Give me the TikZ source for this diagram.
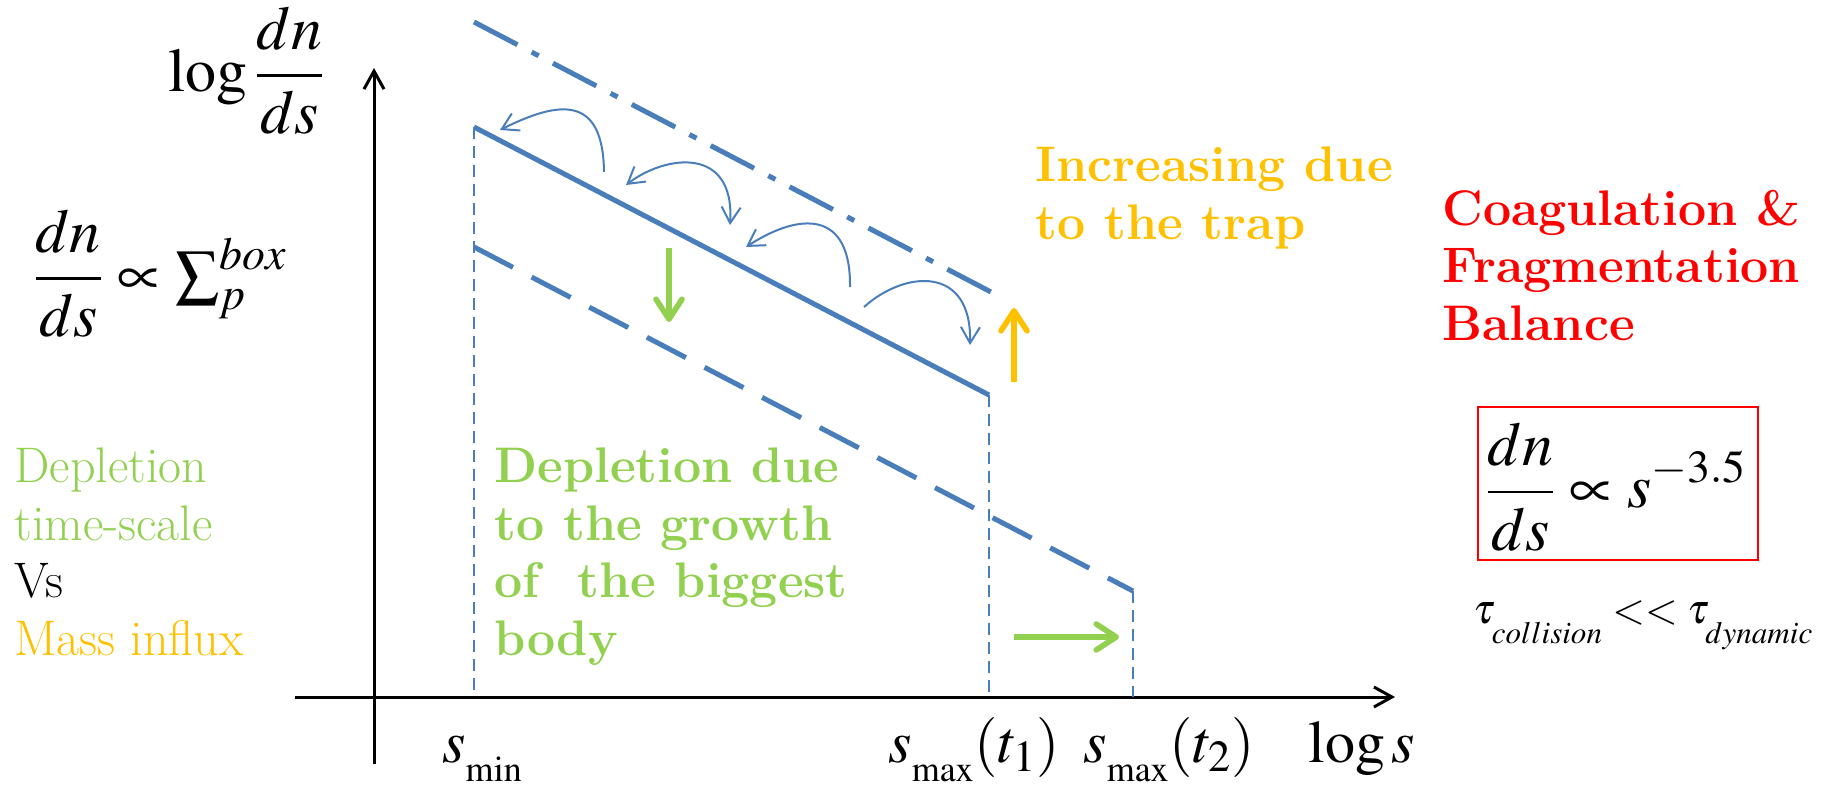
\documentclass[tikz,border=0pt]{standalone}
\usepackage{mathptmx}
\renewcommand{\rmdefault}{lmr}
\usetikzlibrary{arrows.meta}
\definecolor{lineblue}{HTML}{4A7EBB}
\definecolor{lgreen}{HTML}{92D050}
\definecolor{orng}{HTML}{FFC000}
\definecolor{rd}{HTML}{FF0000}
\newcommand{\lowsub}[2]{\lower#1\hbox{\fontsize{18pt}{20pt}\selectfont$#2$}}
\begin{document}
\begin{tikzpicture}[x=0.5pt,y=-0.5pt,
  blueline/.style={draw=lineblue, line width=2.5pt},
  thinv/.style={draw=lineblue, line width=1pt, dash pattern=on 6pt off 3.5pt},
  curvy/.style={draw=lineblue, line width=1pt, -{Straight Barb[length=8pt,width=9.5pt]}},
  axisline/.style={draw=black, line width=1.5pt, -{Straight Barb[length=9pt,width=10pt]}},
  fatarrow/.style={line width=2.8pt, -{Straight Barb[length=10pt,width=13pt,round]}},
  txt/.style={font=\fontsize{25pt}{28.7pt}\selectfont, align=left, inner sep=0pt, anchor=base west},
  mth/.style={font=\fontsize{31pt}{36pt}\selectfont, inner sep=0pt, anchor=base west},
  axlab/.style={font=\fontsize{30pt}{36pt}\selectfont, inner sep=0pt, anchor=base west}]
\useasboundingbox (0,0) rectangle (1824,787);

% axes
\coordinate (ybot) at (374,764);
\coordinate (ytop) at (374,68);
\coordinate (xl) at (295,697);
\coordinate (xr) at (1395,697);
\draw[axisline] (ybot) -- (ytop);
\draw[axisline] (xl) -- (xr);

% distribution lines
\coordinate (dd1) at (474,22);
\coordinate (dd2) at (991,292);
\coordinate (s1) at (474,127);
\coordinate (s2) at (989,395);
\coordinate (l1) at (474,247);
\coordinate (l2) at (1133,591);
\coordinate (b1) at (474,697);
\coordinate (b2) at (989,697);
\coordinate (b3) at (1133,697);
\draw[blueline, dash pattern=on 24.5pt off 8pt on 4pt off 8pt] (dd1) -- (dd2);
\draw[blueline] (s1) -- (s2);
\draw[blueline, dash pattern=on 22pt off 10.5pt] (l1) -- (l2);
\draw[thinv] (s1) -- (b1);
\draw[thinv] (s2) -- (b2);
\draw[thinv] (l2) -- (b3);

% curved arrows
\coordinate (a0) at (604,172); \coordinate (a1) at (500,130);
\draw[curvy] (a0) .. controls (603,95) and (560,100) .. (a1);
\coordinate (c0) at (626,185); \coordinate (c1) at (730,225);
\draw[curvy, {Straight Barb[length=8pt,width=9.5pt]}-{Straight Barb[length=8pt,width=9.5pt]}] (c0) .. controls (665,155) and (735,145) .. (c1);
\coordinate (e0) at (850,287); \coordinate (e1) at (746,247);
\draw[curvy] (e0) .. controls (851,210) and (800,212) .. (e1);
\coordinate (f0) at (864,307); \coordinate (f1) at (970,345);
\draw[curvy] (f0) .. controls (905,270) and (972,265) .. (f1);

% coloured arrows
\coordinate (gd0) at (669,248); \coordinate (gd1) at (669,322);
\draw[fatarrow, lgreen] (gd0) -- (gd1);
\coordinate (ou0) at (1014,382); \coordinate (ou1) at (1014,308);
\draw[fatarrow, orng] (ou0) -- (ou1);
\coordinate (gr0) at (1014,637); \coordinate (gr1) at (1119,637);
\draw[fatarrow, lgreen] (gr0) -- (gr1);

% math labels
\node[mth] (ylab) at (168,91) {$\displaystyle\log\frac{dn}{ds}$};
\node[mth] (dist) at (33,294) {$\displaystyle\frac{dn}{ds}\propto\textstyle\sum\nolimits_p^{box}$};
\node[axlab] (smin) at (442,762) {$s_{\lowsub{5pt}{\min}}$};
\node[axlab] (smax1) at (888,762) {$s_{\lowsub{5pt}{\max}}(t_1)$};
\node[axlab] (smax2) at (1083,762) {$s_{\lowsub{5pt}{\max}}(t_2)$};
\node[axlab] (xlab) at (1308,762) {$\log s$};

% texts (anchor = baseline of last line)
\node[txt] (deptime) at (14,655) {\textcolor{lgreen}{Depletion}\\\textcolor{lgreen}{time-scale}\\Vs\\\textcolor{orng}{Mass influx}};
\node[txt, font=\fontsize{25pt}{28.7pt}\selectfont\bfseries, text=lgreen] (depdue) at (494,655) {Depletion due\\to the growth\\of~ the biggest\\body};
\node[txt, font=\fontsize{25pt}{28.7pt}\selectfont\bfseries, text=orng] (incr) at (1035,239) {Increasing due\\to the trap};
\node[txt, font=\fontsize{25pt}{28.7pt}\selectfont\bfseries, text=rd] (coag) at (1442,340) {Coagulation \&\\Fragmentation\\Balance};

% balance box
\node[draw=rd, line width=1pt, minimum width=140pt, minimum height=76.5pt, inner sep=0pt] (bx) at (1618,483.5) {};
\node[font=\fontsize{31pt}{36pt}\selectfont, inner sep=0pt] (pw) at (1616,487) {$\displaystyle\frac{dn}{ds}\propto s^{-3.5}$};
\node[font=\fontsize{21pt}{25pt}\selectfont, inner sep=0pt, anchor=base west] (tau) at (1473,623) {$\tau_{\lower7pt\hbox{$\scriptstyle collision$}}<<\tau_{\lower7pt\hbox{$\scriptstyle dynamic$}}$};
\end{tikzpicture}
\end{document}
